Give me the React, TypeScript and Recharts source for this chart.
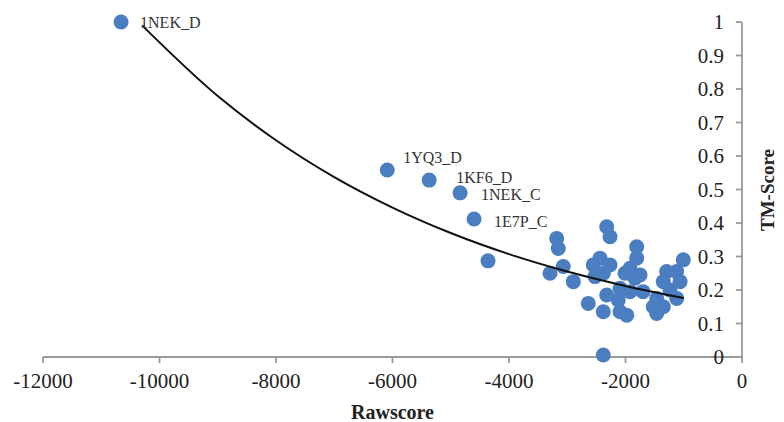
import React from 'react';
import { ScatterChart, Scatter, XAxis, YAxis, LabelList } from 'recharts';

// Labelled proteins
const labelNames = ['1NEK_D', '1YQ3_D', '1KF6_D', '1NEK_C', '1E7P_C'];
const labelRaw = [-10660, -6090, -5370, -4840, -4600];
const labelTm = [1.0, 0.558, 0.528, 0.49, 0.412];

// Unlabelled decoys
const rawScores = [
  -4360, -3181, -3154, -3068, -3296, -2896, -2639, -2323, -2266, -2438,
  -2553, -2266, -2524, -2381, -2323, -2381, -2124, -2094, -1979, -1923,
  -2009, -1808, -1808, -1923, -1837, -1751, -2381, -1008, -1293, -1121,
  -1351, -1064, -1236, -1464, -1351, -1523, -1121, -1464, -2094, -1700,
];
const tmScores = [
  0.287, 0.354, 0.324, 0.27, 0.25, 0.225, 0.16, 0.389, 0.359, 0.295,
  0.275, 0.275, 0.24, 0.25, 0.185, 0.135, 0.17, 0.135, 0.125, 0.195,
  0.25, 0.329, 0.295, 0.265, 0.235, 0.245, 0.006, 0.29, 0.255, 0.255,
  0.225, 0.225, 0.2, 0.175, 0.15, 0.15, 0.175, 0.13, 0.205, 0.195,
];

// Trend line
const trendRaw = [-10300, -9000, -8000, -7000, -6000, -5000, -4000, -3000, -2000, -1000];
const trendTm = [0.99, 0.779, 0.647, 0.537, 0.446, 0.37, 0.307, 0.255, 0.212, 0.176];

const xTicks = [-12000, -10000, -8000, -6000, -4000, -2000, 0];
const yTicks = [0, 0.1, 0.2, 0.3, 0.4, 0.5, 0.6, 0.7, 0.8, 0.9, 1];

const labelled = labelNames.map((n, i) => ({ x: labelRaw[i], y: labelTm[i], name: n }));
const points = rawScores.map((x, i) => ({ x, y: tmScores[i] }));
const trend = trendRaw.map((x, i) => ({ x, y: trendTm[i] }));

const FONT = '"Liberation Serif", "Times New Roman", serif';
const BLUE = '#4a7ec0';
const AXIS = '#9a9a9a';

const labelOffsets: Record<string, [number, number]> = {
  '1NEK_D': [19, 0],
  '1YQ3_D': [16, -13],
  '1KF6_D': [27, -3],
  '1NEK_C': [21, 2],
  '1E7P_C': [20, 2],
};

const Dot = (p: any) => <circle cx={p.cx} cy={p.cy} r={7.5} fill={BLUE} />;

const PointLabel = (p: any) => {
  const off = labelOffsets[p.value] || [10, 0];
  return (
    <text
      x={p.x + p.width / 2 + off[0]}
      y={p.y + p.height / 2 + off[1]}
      dy="0.35em"
      fontFamily={FONT}
      fontSize={16}
      fill="#333"
    >
      {p.value}
    </text>
  );
};

export default function App() {
  return (
    <div style={{ position: 'absolute', left: 0, top: 0, width: 784, height: 422, background: '#fff' }}>
      <ScatterChart width={784} height={422} margin={{ top: 22, right: 42, left: 43, bottom: 0 }}>
        <XAxis
          type="number"
          dataKey="x"
          domain={[-12000, 0]}
          ticks={xTicks}
          height={65}
          tickSize={6}
          tickMargin={10}
          axisLine={{ stroke: AXIS, strokeWidth: 1.8 }}
          tickLine={{ stroke: AXIS, strokeWidth: 1.8 }}
          tick={{ fill: '#222', fontSize: 21, fontFamily: FONT }}
          label={{
            value: 'Rawscore',
            position: 'insideBottom',
            offset: 3,
            style: { fill: '#222', fontSize: 20, fontWeight: 'bold', fontFamily: FONT },
          }}
        />
        <YAxis
          type="number"
          dataKey="y"
          orientation="right"
          mirror
          domain={[0, 1]}
          ticks={yTicks}
          tickSize={6}
          tickMargin={12}
          axisLine={{ stroke: AXIS, strokeWidth: 1.8 }}
          tickLine={{ stroke: AXIS, strokeWidth: 1.8 }}
          tick={{ fill: '#222', fontSize: 21, fontFamily: FONT }}
        />
        <Scatter data={points} shape={Dot} isAnimationActive={false} />
        <Scatter data={labelled} shape={Dot} isAnimationActive={false}>
          <LabelList dataKey="name" content={PointLabel} />
        </Scatter>
        <Scatter
          data={trend}
          line={{ stroke: '#111', strokeWidth: 2 }}
          lineJointType="monotoneX"
          shape={() => <g />}
          isAnimationActive={false}
        />
      </ScatterChart>
      <div
        style={{
          position: 'absolute',
          left: 768,
          top: 190,
          transform: 'translate(-50%, -50%) rotate(-90deg)',
          fontFamily: FONT,
          fontWeight: 'bold',
          fontSize: 19,
          color: '#222',
          whiteSpace: 'nowrap',
        }}
      >
        TM-Score
      </div>
    </div>
  );
}
